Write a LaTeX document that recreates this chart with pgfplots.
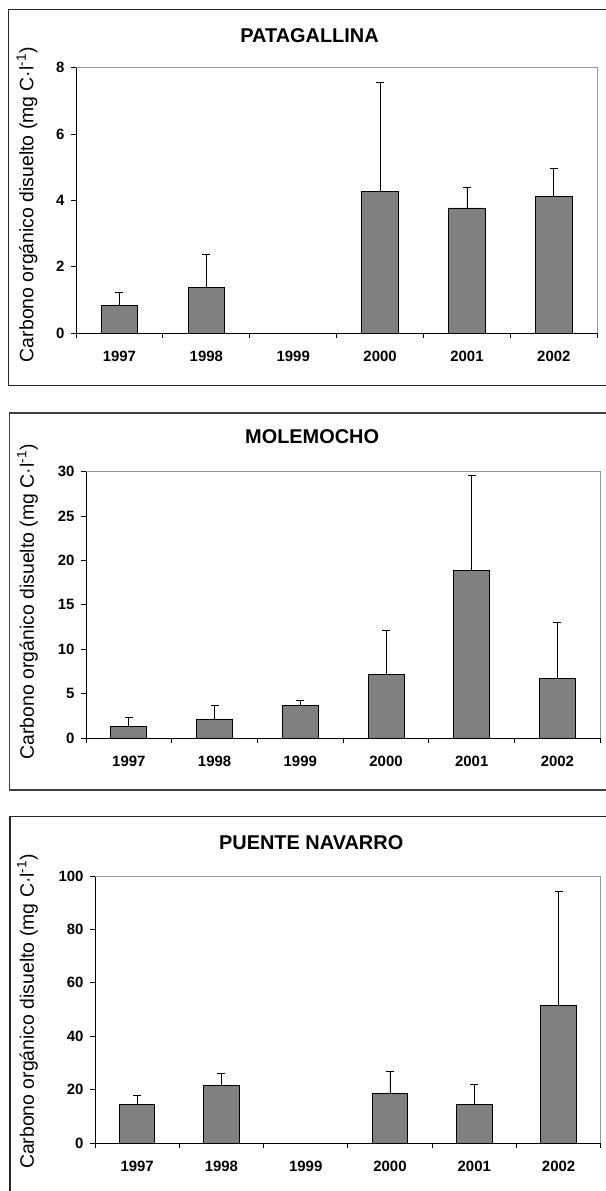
\documentclass[border=0pt]{standalone}
\usepackage{fontspec}
\setmainfont{Liberation Sans}
\usepackage{pgfplots}
\usepackage{pgfplotstable}
\pgfplotsset{compat=1.18}

\definecolor{barfill}{RGB}{128,128,128}
\definecolor{plotborder}{RGB}{150,150,150}

% x = category index (0=1997 ... 5=2002), y = mean, ep = upper error
\pgfplotstableread{
x y ep
0 0.83 0.38
1 1.37 1.00
3 4.26 3.29
4 3.77 0.63
5 4.11 0.86
}\patagallina
\pgfplotstableread{
x y ep
0 1.35 0.97
1 2.14 1.57
2 3.71 0.53
3 7.20 4.95
4 18.90 10.70
5 6.75 6.25
}\molemocho
\pgfplotstableread{
x y ep
0 14.5 3.25
1 21.5 4.60
3 18.5 8.50
4 14.5 7.50
5 51.5 42.75
}\puentenavarro

\pgfplotsset{
  panel/.style={
    scale only axis,
    anchor=south west,
    xmin=-0.5, xmax=5.5,
    ymin=0,
    axis x line*=bottom,
    axis y line*=left,
    axis line style={-, black, line width=0.9bp},
    xtick={0,1,2,3,4,5},
    xticklabels={1997,1998,1999,2000,2001,2002},
    minor xtick={-0.5,0.5,1.5,2.5,3.5,4.5,5.5},
    major x tick style={draw=none},
    minor x tick style={black, line width=0.8bp},
    y tick style={black, line width=0.8bp},
    tick align=outside,
    major tick length=5bp,
    minor tick length=5bp,
    /pgf/number format/assume math mode=true,
    tick label style={font=\fontsize{15}{18}\selectfont\bfseries},
    xticklabel style={yshift=-10bp},
    yticklabel style={xshift=-3bp},
    title style={font=\fontsize{20}{23}\selectfont\bfseries, anchor=center},
    ylabel={Carbono orgánico disuelto (mg C·l\textsuperscript{-1})},
    ylabel style={font=\fontsize{19.5}{22}\selectfont, anchor=center},
    ybar,
    bar width=0.42,
    clip=false,
  },
  barsty/.style={
    fill=barfill, draw=black, line width=0.8bp,
    error bars/.cd, y dir=plus, y explicit,
    error bar style={black, line width=0.8bp},
    error mark options={black, line width=0.8bp, mark size=4bp, rotate=90},
  },
}

\begin{document}
\begin{tikzpicture}[x=1bp,y=1bp]
\useasboundingbox (0,0) rectangle (606,1191);
% panel frames
\draw[line width=1.3bp, black!85] (606,1181.7) -- (8.3,1181.7) -- (8.3,805.7) -- (606,805.7);
\draw[line width=1.6bp, black!75] (606,778) -- (9.3,778) -- (9.3,401) -- (606,401);
\draw[line width=1.3bp, black!85] (606,374.3) -- (10,374.3) -- (10,-2);

% PATAGALLINA
\begin{axis}[panel, at={(76bp,858bp)}, width=521.3bp, height=265.3bp,
  ymax=8, ytick={0,2,4,6,8},
  title={PATAGALLINA},
  title style={at={(axis description cs:0.448,1)}, yshift=25.7bp},
  ylabel style={at={(axis description cs:-0.094,0.484)}}]
  \addplot[barsty] table[x=x, y=y, y error plus=ep] {\patagallina};
  \draw[plotborder, line width=0.9bp] (rel axis cs:0,1) -- (rel axis cs:1,1) -- (rel axis cs:1,0);
\end{axis}

% MOLEMOCHO
\begin{axis}[panel, at={(86bp,453bp)}, width=514.3bp, height=266.3bp,
  ymax=30, ytick={0,5,10,15,20,25,30},
  title={MOLEMOCHO},
  title style={at={(axis description cs:0.4397,1)}, yshift=28.7bp},
  ylabel style={at={(axis description cs:-0.114,0.511)}}]
  \addplot[barsty] table[x=x, y=y, y error plus=ep] {\molemocho};
  \draw[plotborder, line width=0.9bp] (rel axis cs:0,1) -- (rel axis cs:1,1) -- (rel axis cs:1,0);
\end{axis}

% PUENTE NAVARRO
\begin{axis}[panel, at={(95bp,48bp)}, width=505.7bp, height=267bp,
  ymax=100, ytick={0,20,40,60,80,100},
  title={PUENTE NAVARRO},
  title style={at={(axis description cs:0.4275,1)}, yshift=27.3bp},
  ylabel style={at={(axis description cs:-0.1337,0.4925)}}]
  \addplot[barsty] table[x=x, y=y, y error plus=ep] {\puentenavarro};
  \draw[plotborder, line width=0.9bp] (rel axis cs:0,1) -- (rel axis cs:1,1) -- (rel axis cs:1,0);
\end{axis}
\end{tikzpicture}
\end{document}
